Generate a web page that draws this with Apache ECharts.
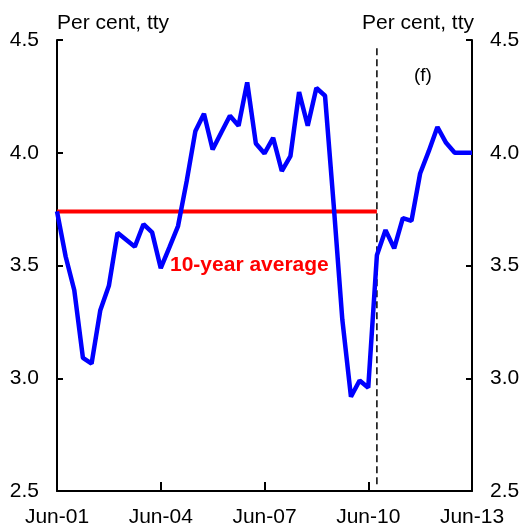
<!DOCTYPE html>
<html lang="en">
<head>
    <meta charset="UTF-8">
    <title>Per cent, tty</title>
    <script src="https://cdn.jsdelivr.net/npm/echarts@6/dist/echarts.min.js"></script>
    <style>
        html, body { margin: 0; padding: 0; background: #fff; }
        #main { width: 524px; height: 528px; }
    </style>
</head>
<body>
<div id="main"></div>
<script>
    // quarterly, Jun-01 .. Jun-13
    var quarters = [];
    var months = ['Mar', 'Jun', 'Sep', 'Dec'];
    for (var y = 1; y <= 13; y++) {
        for (var m = 0; m < 4; m++) {
            if (y === 1 && m === 0) continue;
            if (y === 13 && m > 1) continue;
            quarters.push(months[m] + '-' + (y < 10 ? '0' + y : y));
        }
    }

    var growth = [
        3.74, 3.54, 3.39, 3.09, 3.065, 3.30, 3.41, 3.645, 3.614, 3.583,
        3.683, 3.647, 3.488, 3.58, 3.675, 3.874, 4.095, 4.173, 4.014, 4.09,
        4.164, 4.12, 4.312, 4.041, 3.997, 4.066, 3.919, 3.985, 4.269, 4.12,
        4.287, 4.253, 3.77, 3.26, 2.918, 2.99, 2.958, 3.545, 3.657, 3.576,
        3.71, 3.698, 3.908, 4.007, 4.114, 4.044, 4.0, 4.0, 4.0
    ];

    var avgValue = 3.74;
    var avgEnd = 'Sep-10';
    var forecastStart = 'Sep-10';
    var yTicks = [2.5, 3.0, 3.5, 4.0, 4.5];

    var avgData = [];
    var endIdx = quarters.indexOf(avgEnd);
    for (var i = 0; i < quarters.length; i++) {
        avgData.push(i <= endIdx ? avgValue : null);
    }

    var font = 'Liberation Sans, Arial, sans-serif';

    var yAxisBase = {
        type: 'value',
        min: yTicks[0],
        max: yTicks[yTicks.length - 1],
        interval: 0.5,
        splitLine: { show: false },
        axisLine: { show: true, lineStyle: { color: '#000', width: 2 } },
        axisTick: { show: true, inside: true, length: 6, lineStyle: { color: '#000', width: 2 } },
        axisLabel: {
            margin: 18, color: '#000', fontSize: 21, fontFamily: font,
            formatter: function (v) { return v.toFixed(1); }
        }
    };

    var chart = echarts.init(document.getElementById('main'));
    var option = {
        animation: false,
        grid: { left: 57, right: 52, top: 40, bottom: 35 },
        xAxis: {
            type: 'category',
            data: quarters,
            boundaryGap: false,
            axisLine: { lineStyle: { color: '#000', width: 2 } },
            axisTick: { inside: true, length: 9, interval: 11, lineStyle: { color: '#000', width: 2 } },
            axisLabel: { interval: 11, margin: 16, color: '#000', fontSize: 21, fontFamily: font },
            splitLine: { show: false }
        },
        yAxis: [
            yAxisBase,
            Object.assign({}, yAxisBase, { position: 'right' })
        ],
        graphic: [
            { type: 'text', left: 57, top: 13, style: { text: 'Per cent, tty', font: '21px ' + font, fill: '#000' } },
            { type: 'text', right: 50, top: 13, style: { text: 'Per cent, tty', font: '21px ' + font, fill: '#000' } },
            { type: 'text', left: 414, top: 66, style: { text: '(f)', font: '19px ' + font, fill: '#000' } },
            { type: 'text', left: 170, top: 255, style: { text: '10-year average', font: 'bold 21px ' + font, fill: '#ff0000' } }
        ],
        series: [
            {
                name: '10-year average',
                type: 'line',
                data: avgData,
                symbol: 'none',
                lineStyle: { color: '#ff0000', width: 4 },
                z: 2
            },
            {
                name: 'forecast',
                type: 'line',
                data: [[forecastStart, 2.53], [forecastStart, 4.48]],
                symbol: 'none',
                lineStyle: { color: '#000', width: 1.5, type: [7, 4] },
                z: 1
            },
            {
                name: 'growth',
                type: 'line',
                data: growth,
                symbol: 'none',
                lineStyle: { color: '#0000ff', width: 4.5 },
                z: 3
            }
        ]
    };
    chart.setOption(option);
</script>
</body>
</html>
